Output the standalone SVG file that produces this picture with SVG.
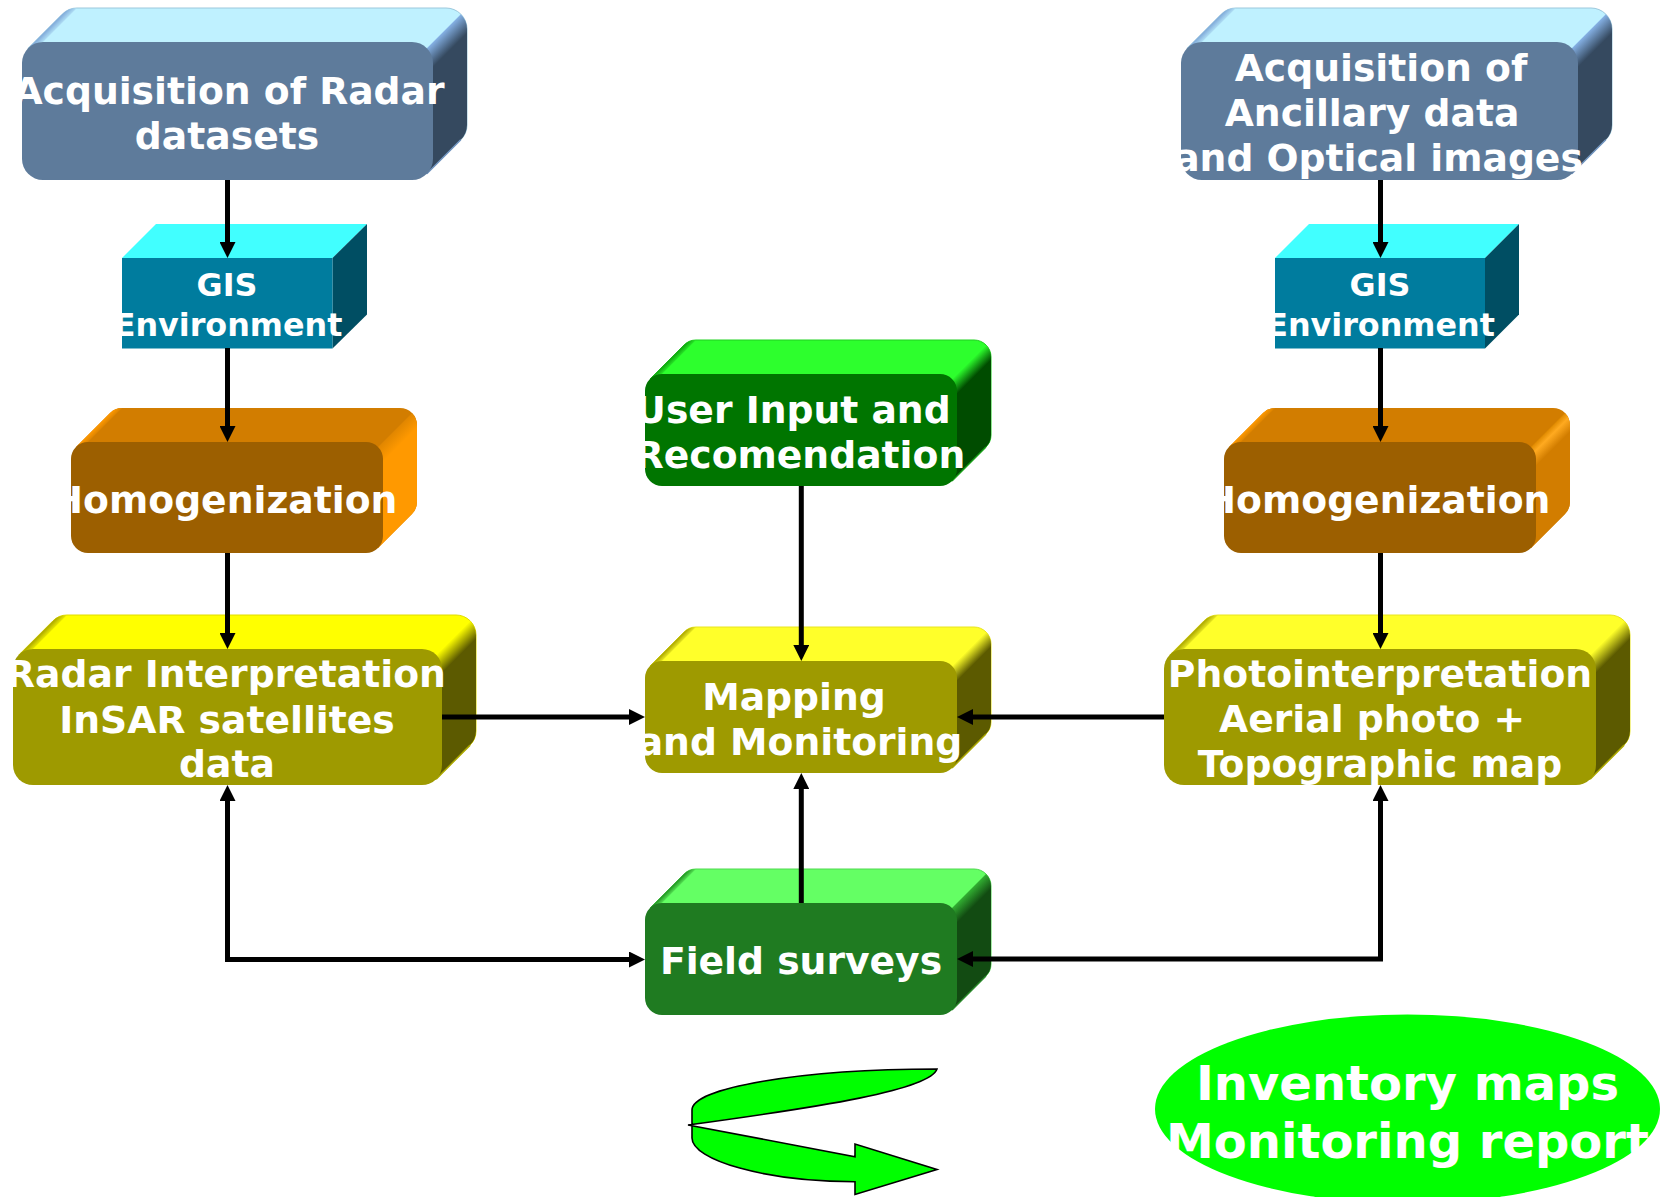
<svg xmlns="http://www.w3.org/2000/svg" xmlns:xlink="http://www.w3.org/1999/xlink" width="1667" height="1197" viewBox="0 0 1667 1197">
<style>
text{font-family:"DejaVu Sans","Liberation Sans",sans-serif;font-weight:700;fill:#fff;text-anchor:middle}
.t38{font-size:37.7px}.t33{font-size:31.8px}.t50{font-size:48px}
.con{fill:none;stroke:#000;stroke-width:5;marker-end:url(#ah)}
.two{marker-start:url(#ah)}
.blue .f{fill:#5e7b9b}.blue .s{fill:#bff1ff;stroke:#9cc8dc;stroke-width:1}.blue .e{stroke:#7396c0}
.yel .f{fill:#9e9a00}.yel .s{fill:#ff0;stroke:#e0dc00;stroke-width:1}.yel .e{stroke:#aaa600}
.yel2 .f{fill:#9e9a00}.yel2 .s{fill:#ffff2a;stroke:#e8e420;stroke-width:1}.yel2 .e{stroke:#aaa600}
.ora .f{fill:#9c5f00}.ora .s{fill:#d27d00}.ora .e{stroke:#ff9900}
.gr1 .f{fill:#007500}.gr1 .s{fill:#2dff2d;stroke:#20d020;stroke-width:1}.gr1 .e{stroke:#18a018}
.gr2 .f{fill:#1f7b21}.gr2 .s{fill:#64ff64;stroke:#50d850;stroke-width:1}.gr2 .e{stroke:#2a8a2a}
.e{fill:none;stroke-width:1.5}
</style>
<defs>
<marker id="ah" markerUnits="userSpaceOnUse" markerWidth="16" markerHeight="16" viewBox="0 0 16 16" refX="6" refY="8" orient="auto-start-reverse"><path d="M0,0L16,8L0,16Z" fill="#000"/></marker>
<linearGradient id="bB"><stop offset="0" stop-color="#86b2e6"/><stop offset="1" stop-color="#35495f"/></linearGradient>
<linearGradient id="lB"><stop offset="0" stop-color="#7fa8d8"/><stop offset=".55" stop-color="#bff1ff"/></linearGradient>
<linearGradient id="bY"><stop offset="0" stop-color="#ff0"/><stop offset="1" stop-color="#5c5a00"/></linearGradient>
<linearGradient id="lY"><stop offset="0" stop-color="#a8a400"/><stop offset=".55" stop-color="#ff0"/></linearGradient>
<linearGradient id="bY2"><stop offset="0" stop-color="#ffff2a"/><stop offset="1" stop-color="#5c5a00"/></linearGradient>
<linearGradient id="lY2"><stop offset="0" stop-color="#a8a400"/><stop offset=".55" stop-color="#ffff2a"/></linearGradient>
<linearGradient id="bO"><stop offset="0" stop-color="#e08600"/><stop offset="1" stop-color="#ff9900"/></linearGradient>
<linearGradient id="bO2"><stop offset="0" stop-color="#e08a00"/><stop offset=".35" stop-color="#ffaa20"/><stop offset="1" stop-color="#d27d00"/></linearGradient>
<linearGradient id="lO"><stop offset="0" stop-color="#ff9900"/><stop offset=".55" stop-color="#d27d00"/></linearGradient>
<linearGradient id="bG"><stop offset="0" stop-color="#2dff2d"/><stop offset="1" stop-color="#004c00"/></linearGradient>
<linearGradient id="lG"><stop offset="0" stop-color="#10a010"/><stop offset=".55" stop-color="#2dff2d"/></linearGradient>
<linearGradient id="bH"><stop offset="0" stop-color="#32b032"/><stop offset="1" stop-color="#124b12"/></linearGradient>
<linearGradient id="lH"><stop offset="0" stop-color="#229022"/><stop offset=".55" stop-color="#64ff64"/></linearGradient>
<linearGradient id="g1" gradientUnits="userSpaceOnUse" xlink:href="#bB" x1="426.8" y1="48.2" x2="439.4" y2="60.8"/>
<linearGradient id="p1" gradientUnits="userSpaceOnUse" xlink:href="#lB" x1="28.2" y1="48.2" x2="38.7" y2="58.7"/>
<linearGradient id="g2" gradientUnits="userSpaceOnUse" xlink:href="#bB" x1="1571.8" y1="48.2" x2="1584.4" y2="60.8"/>
<linearGradient id="p2" gradientUnits="userSpaceOnUse" xlink:href="#lB" x1="1187.2" y1="48.2" x2="1197.7" y2="58.7"/>
<linearGradient id="g3" gradientUnits="userSpaceOnUse" xlink:href="#bO" x1="378" y1="447" x2="388" y2="457"/>
<linearGradient id="p3" gradientUnits="userSpaceOnUse" xlink:href="#lO" x1="76" y1="447" x2="84.5" y2="455.5"/>
<linearGradient id="g4" gradientUnits="userSpaceOnUse" xlink:href="#bO2" x1="1531" y1="447" x2="1543" y2="459"/>
<linearGradient id="p4" gradientUnits="userSpaceOnUse" xlink:href="#lO" x1="1229" y1="447" x2="1237.5" y2="455.5"/>
<linearGradient id="g5" gradientUnits="userSpaceOnUse" xlink:href="#bY" x1="436.1" y1="654.9" x2="448.1" y2="666.9"/>
<linearGradient id="p5" gradientUnits="userSpaceOnUse" xlink:href="#lY" x1="18.9" y1="654.9" x2="28.9" y2="664.9"/>
<linearGradient id="g6" gradientUnits="userSpaceOnUse" xlink:href="#bY2" x1="1590.1" y1="654.9" x2="1602.1" y2="666.9"/>
<linearGradient id="p6" gradientUnits="userSpaceOnUse" xlink:href="#lY2" x1="1169.9" y1="654.9" x2="1179.9" y2="664.9"/>
<linearGradient id="g7" gradientUnits="userSpaceOnUse" xlink:href="#bG" x1="952" y1="379" x2="962" y2="389"/>
<linearGradient id="p7" gradientUnits="userSpaceOnUse" xlink:href="#lG" x1="650" y1="379" x2="658.5" y2="387.5"/>
<linearGradient id="g8" gradientUnits="userSpaceOnUse" xlink:href="#bY2" x1="952" y1="666" x2="962" y2="676"/>
<linearGradient id="p8" gradientUnits="userSpaceOnUse" xlink:href="#lY2" x1="650" y1="666" x2="658.5" y2="674.5"/>
<linearGradient id="g9" gradientUnits="userSpaceOnUse" xlink:href="#bH" x1="952" y1="908" x2="962" y2="918"/>
<linearGradient id="p9" gradientUnits="userSpaceOnUse" xlink:href="#lH" x1="650" y1="908" x2="658.5" y2="916.5"/>
</defs>
<rect width="1667" height="1197" fill="#fff"/>

<g id="radar-acquisition" class="blue">
<path class="s" d="M28.2,48.2L62.2,14.2A21,21 0 0 1 77,8H446A21,21 0 0 1 467,29V125A21,21 0 0 1 460.8,139.8L426.8,173.8L28.2,48.2Z"/>
<path fill="url(#p1)" d="M28.2,48.2L62.2,14.2A21,21 0 0 1 77,8L43,42Z"/>
<path fill="url(#g1)" d="M426.8,48.2L460.8,14.2A21,21 0 0 1 467,29V125A21,21 0 0 1 460.8,139.8L426.8,173.8Z"/>
<path class="e" d="M460.8,139.8L426.8,173.8"/>
<rect class="f" x="22" y="42" width="411" height="138" rx="21"/>
<text class="t38" x="229" y="104">Acquisition of Radar</text>
<text class="t38" x="227" y="149">datasets</text>
</g>

<g id="ancillary-acquisition" class="blue">
<path class="s" d="M1187.2,48.2L1221.2,14.2A21,21 0 0 1 1236,8H1591A21,21 0 0 1 1612,29V125A21,21 0 0 1 1605.8,139.8L1571.8,173.8L1187.2,48.2Z"/>
<path fill="url(#p2)" d="M1187.2,48.2L1221.2,14.2A21,21 0 0 1 1236,8L1202,42Z"/>
<path fill="url(#g2)" d="M1571.8,48.2L1605.8,14.2A21,21 0 0 1 1612,29V125A21,21 0 0 1 1605.8,139.8L1571.8,173.8Z"/>
<path class="e" d="M1605.8,139.8L1571.8,173.8"/>
<rect class="f" x="1181" y="42" width="397" height="138" rx="21"/>
<text class="t38" x="1381" y="81">Acquisition of</text>
<text class="t38" x="1372" y="126">Ancillary data</text>
<text class="t38" x="1378.5" y="171">and Optical images</text>
</g>

<g id="gis-left">
<path fill="#41ffff" d="M122,258L156,224H367L332.5,258Z"/>
<path fill="#004e63" d="M332.5,258L367,224V314.5L332.5,348.5Z"/>
<rect fill="#007c9e" x="122" y="258" width="210.5" height="90.5"/>
<text class="t33" x="227" y="296">GIS</text>
<text class="t33" x="228" y="336">Environment</text>
</g>

<g id="gis-right">
<path fill="#41ffff" d="M1275,258L1309,224H1519L1485,258Z"/>
<path fill="#004e63" d="M1485,258L1519,224V314.5L1485,348.5Z"/>
<rect fill="#007c9e" x="1275" y="258" width="210" height="90.5"/>
<text class="t33" x="1380" y="296">GIS</text>
<text class="t33" x="1380.5" y="336">Environment</text>
</g>

<g id="homogenization-left" class="ora">
<path class="s" d="M76,447L110,413A17,17 0 0 1 122,408H400A17,17 0 0 1 417,425V502A17,17 0 0 1 412,514L378,548L76,447Z"/>
<path fill="url(#p3)" d="M76,447L110,413A17,17 0 0 1 122,408L88,442Z"/>
<path fill="url(#g3)" d="M378,447L412,413A17,17 0 0 1 417,425V502A17,17 0 0 1 412,514L378,548Z"/>
<rect class="f" x="71" y="442" width="312" height="111" rx="17"/>
<text class="t38" x="224.5" y="513">Homogenization</text>
</g>

<g id="homogenization-right" class="ora">
<path class="s" d="M1229,447L1263,413A17,17 0 0 1 1275,408H1553A17,17 0 0 1 1570,425V502A17,17 0 0 1 1565,514L1531,548L1229,447Z"/>
<path fill="url(#p4)" d="M1229,447L1263,413A17,17 0 0 1 1275,408L1241,442Z"/>
<path fill="url(#g4)" d="M1531,447L1565,413A17,17 0 0 1 1570,425V502A17,17 0 0 1 1565,514L1531,548Z"/>
<rect class="f" x="1224" y="442" width="312" height="111" rx="17"/>
<text class="t38" x="1377.5" y="513">Homogenization</text>
</g>

<g id="radar-interpretation" class="yel">
<path class="s" d="M18.9,654.9L52.9,620.9A20,20 0 0 1 67,615H456A20,20 0 0 1 476,635V731A20,20 0 0 1 470.1,745.1L436.1,779.1L18.9,654.9Z"/>
<path fill="url(#p5)" d="M18.9,654.9L52.9,620.9A20,20 0 0 1 67,615L33,649Z"/>
<path fill="url(#g5)" d="M436.1,654.9L470.1,620.9A20,20 0 0 1 476,635V731A20,20 0 0 1 470.1,745.1L436.1,779.1Z"/>
<path class="e" d="M470.1,745.1L436.1,779.1"/>
<rect class="f" x="13" y="649" width="429" height="136" rx="20"/>
<text class="t38" x="226" y="687">Radar Interpretation</text>
<text class="t38" x="227" y="733">InSAR satellites</text>
<text class="t38" x="227" y="777">data</text>
</g>

<g id="photointerpretation" class="yel2">
<path class="s" d="M1169.9,654.9L1203.9,620.9A20,20 0 0 1 1218,615H1610A20,20 0 0 1 1630,635V731A20,20 0 0 1 1624.1,745.1L1590.1,779.1L1169.9,654.9Z"/>
<path fill="url(#p6)" d="M1169.9,654.9L1203.9,620.9A20,20 0 0 1 1218,615L1184,649Z"/>
<path fill="url(#g6)" d="M1590.1,654.9L1624.1,620.9A20,20 0 0 1 1630,635V731A20,20 0 0 1 1624.1,745.1L1590.1,779.1Z"/>
<path class="e" d="M1624.1,745.1L1590.1,779.1"/>
<rect class="f" x="1164" y="649" width="432" height="136" rx="20"/>
<text class="t38" x="1380" y="687">Photointerpretation</text>
<text class="t38" x="1372" y="732">Aerial photo +</text>
<text class="t38" x="1380" y="777">Topographic map</text>
</g>

<g id="user-input" class="gr1">
<path class="s" d="M650,379L684,345A17,17 0 0 1 696,340H974A17,17 0 0 1 991,357V435A17,17 0 0 1 986,447L952,481L650,379Z"/>
<path fill="url(#p7)" d="M650,379L684,345A17,17 0 0 1 696,340L662,374Z"/>
<path fill="url(#g7)" d="M952,379L986,345A17,17 0 0 1 991,357V435A17,17 0 0 1 986,447L952,481Z"/>
<path class="e" d="M986,447L952,481"/>
<rect class="f" x="645" y="374" width="312" height="112" rx="17"/>
<text class="t38" x="793" y="423">User Input and</text>
<text class="t38" x="800" y="468">Recomendation</text>
</g>

<g id="mapping" class="yel2">
<path class="s" d="M650,666L684,632A17,17 0 0 1 696,627H974A17,17 0 0 1 991,644V722A17,17 0 0 1 986,734L952,768L650,666Z"/>
<path fill="url(#p8)" d="M650,666L684,632A17,17 0 0 1 696,627L662,661Z"/>
<path fill="url(#g8)" d="M952,666L986,632A17,17 0 0 1 991,644V722A17,17 0 0 1 986,734L952,768Z"/>
<path class="e" d="M986,734L952,768"/>
<rect class="f" x="645" y="661" width="312" height="112" rx="17"/>
<text class="t38" x="794" y="710">Mapping</text>
<text class="t38" x="800" y="755">and Monitoring</text>
</g>

<g id="field-surveys" class="gr2">
<path class="s" d="M650,908L684,874A17,17 0 0 1 696,869H974A17,17 0 0 1 991,886V964A17,17 0 0 1 986,976L952,1010L650,908Z"/>
<path fill="url(#p9)" d="M650,908L684,874A17,17 0 0 1 696,869L662,903Z"/>
<path fill="url(#g9)" d="M952,908L986,874A17,17 0 0 1 991,886V964A17,17 0 0 1 986,976L952,1010Z"/>
<path class="e" d="M986,976L952,1010"/>
<rect class="f" x="645" y="903" width="312" height="112" rx="17"/>
<text class="t38" x="801" y="974">Field surveys</text>
</g>

<g id="inventory-output">
<ellipse cx="1407.5" cy="1109" rx="252.5" ry="94.5" fill="#0f0"/>
<text class="t50" x="1407.5" y="1100">Inventory maps</text>
<text class="t50" x="1407.5" y="1158">Monitoring report</text>
</g>

<g id="curved-arrow">
<path d="M937,1069C800,1069 692,1088 692,1110V1138C692,1160 765,1181.7 855,1181.7V1194.5L937,1169.5L855,1144V1156.7L688,1125C820,1107 930,1090 937,1069Z" fill="#0f0" stroke="#000" stroke-width="1.6"/>
</g>

<g id="connectors">
<path class="con" d="M227.5,180V248"/>
<path class="con" d="M227.5,348V432"/>
<path class="con" d="M227.5,553V639"/>
<path class="con" d="M1380.5,180V248"/>
<path class="con" d="M1380.5,348V432"/>
<path class="con" d="M1380.5,553V639"/>
<path class="con" d="M801.3,486V651"/>
<path class="con" d="M801.3,903V783"/>
<path class="con" d="M442,717H635"/>
<path class="con" d="M1164,717H967"/>
<path class="con two" d="M227.5,795V959.5H635"/>
<path class="con two" d="M1380.5,795V959H967"/>
</g>
</svg>
